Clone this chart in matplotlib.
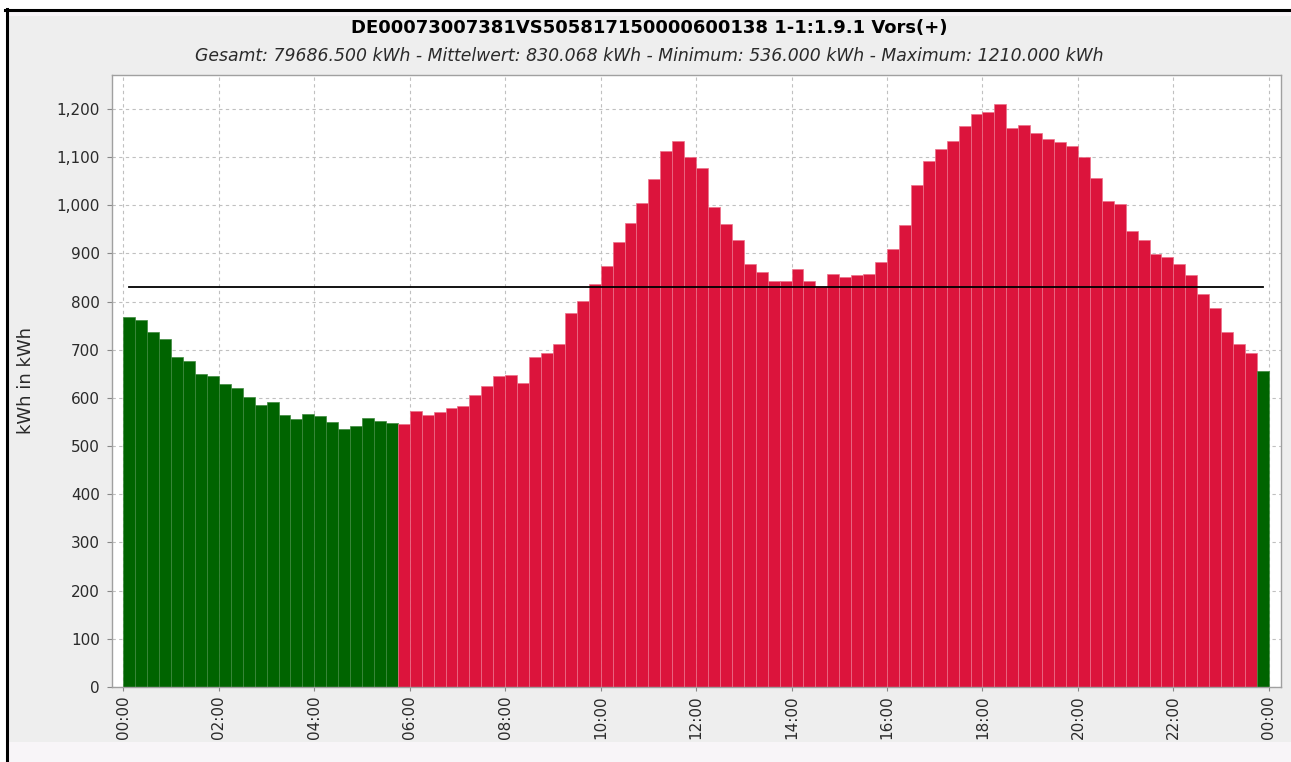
import numpy as np
import matplotlib.pyplot as plt
from matplotlib.patches import Rectangle
from matplotlib.lines import Line2D
from matplotlib.ticker import FuncFormatter

titel = 'DE00073007381VS505817150000600138 1-1:1.9.1 Vors(+)'
gesamt = 79686.500
mittelwert = 830.068
minimum = 536.000
maximum = 1210.000

# 15-Minuten-Werte, 00:00 bis 23:45
werte = [769, 761, 736, 722, 685, 676, 650, 646, 630, 620,
         603, 586, 591, 565, 557, 567, 562, 550, 536, 541,
         558, 553, 548, 547, 572, 564, 570, 580, 583, 606,
         625, 645, 648, 632, 685, 694, 713, 776, 801, 836,
         875, 923, 963, 1005, 1054, 1112, 1133, 1101, 1077, 996,
         961, 927, 879, 862, 842, 843, 868, 842, 831, 857,
         851, 856, 857, 882, 910, 960, 1042, 1092, 1117, 1134,
         1164, 1190, 1194, 1210, 1160, 1166, 1150, 1137, 1131, 1124,
         1100, 1056, 1008, 1002, 947, 928, 898, 892, 879, 856,
         815, 787, 738, 713, 693, 655]
# Niedertarif-Intervalle (gruen)
nt_intervalle = list(range(0, 23)) + [95]

stunden_ticks = list(range(0, 25, 2))
tick_texte = ['%02d:00' % (h % 24) for h in stunden_ticks]

W, H = 1291, 762
fig = plt.figure(figsize=(W / 100, H / 100), dpi=100)
fig.patch.set_facecolor('white')

# grauer Hintergrund mit schwarzem Rahmen
fig.patches.append(Rectangle((6 / W, 20 / H), 1, (H - 36) / H, transform=fig.transFigure,
                             facecolor='#eeeeee', edgecolor='none', zorder=-3))
fig.patches.append(Rectangle((6 / W, 0), 1, 20 / H, transform=fig.transFigure,
                             facecolor='#f8f5f8', edgecolor='none', zorder=-3))
fig.patches.append(Rectangle((6 / W, 1 - 16 / H), 1, 6 / H, transform=fig.transFigure,
                             facecolor='#f8f5f8', edgecolor='none', zorder=-3))
fig.lines.append(Line2D([5 / W, 1], [1 - 10 / H, 1 - 10 / H], transform=fig.transFigure,
                        color='black', lw=2.2))
fig.lines.append(Line2D([6.5 / W, 6.5 / W], [0, 1 - 9 / H], transform=fig.transFigure,
                        color='black', lw=2.2))

ax = fig.add_axes([111.7 / W, 1 - 687 / H, (1281 - 111.7) / W, (687 - 75) / H])
ax.set_facecolor('white')

x = np.arange(len(werte)) * 0.25
farben = ['#006400' if i in nt_intervalle else '#dc143c' for i in range(len(werte))]
kanten = ['#3f8a3f' if i in nt_intervalle else '#ec7189' for i in range(len(werte))]
ax.bar(x, werte, width=0.25, align='edge', color=farben, edgecolor=kanten, linewidth=0.5, zorder=2)

# Mittelwert-Linie
ax.plot([x[0] + 0.125, x[-1] + 0.125], [mittelwert, mittelwert], color='black', lw=1.3, zorder=3)

ax.set_xlim(-0.245, 24.255)
ax.set_ylim(0, maximum * 1.05)
ax.set_xticks(stunden_ticks)
ax.set_xticklabels(tick_texte, rotation=90, fontsize=11, color='#2a2a2a')
ax.set_yticks(range(0, 1201, 100))
ax.yaxis.set_major_formatter(FuncFormatter(lambda v, p: '{:,.0f}'.format(v)))
ax.tick_params(axis='y', labelsize=11, labelcolor='#2a2a2a', length=3.6, pad=4.8, color='#888888')
ax.tick_params(axis='x', length=3, pad=3, color='#888888')

ax.grid(True, color='#c0c0c0', linestyle=(0, (3, 3)), linewidth=0.8)
ax.set_axisbelow(True)
for s in ax.spines.values():
    s.set_color('#a0a0a0')
    s.set_linewidth(1)

ax.set_ylabel('kWh in kWh', fontsize=13, color='#2a2a2a')
ax.yaxis.set_label_coords((35 - 111.7) / (1281 - 111.7), 0.5)

fig.text(0.503, 1 - 28 / H, titel, ha='center', va='center', fontsize=13, fontweight='bold')
untertitel = ('Gesamt: %.3f kWh - Mittelwert: %.3f kWh - Minimum: %.3f kWh - Maximum: %.3f kWh'
              % (gesamt, mittelwert, minimum, maximum))
fig.text(0.503, 1 - 56 / H, untertitel, ha='center', va='center', fontsize=12.4, style='italic',
         color='#2a2a2a')

fig.savefig('out.png', dpi=100)
